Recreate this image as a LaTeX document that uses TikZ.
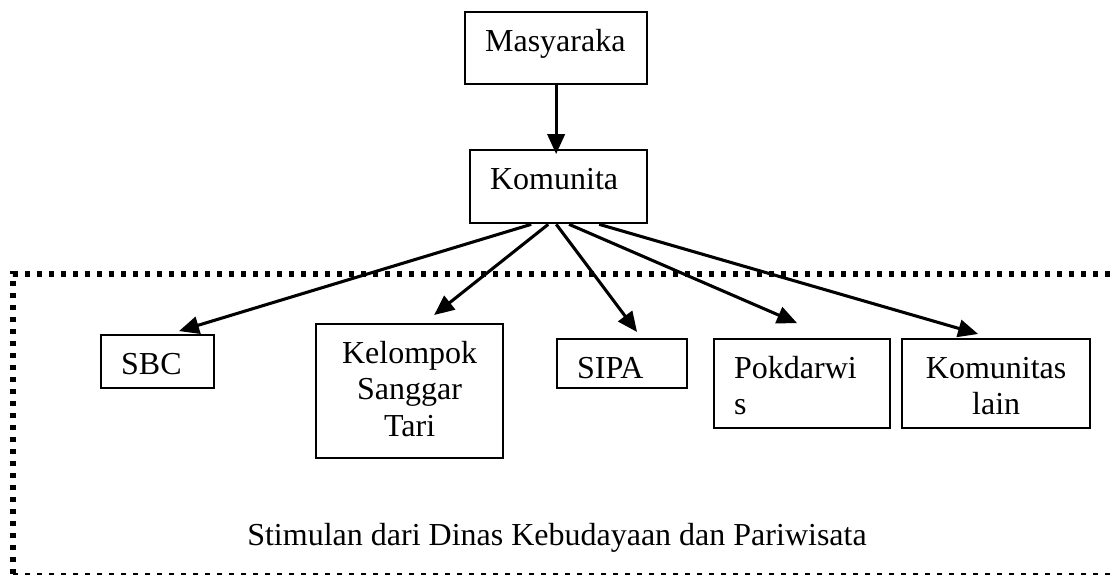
\documentclass[tikz,border=0pt]{standalone}
\usepackage{fontspec}
\setmainfont{Liberation Serif}
\usetikzlibrary{arrows.meta}
\tikzset{
  kotakbox/.style={draw, line width=0.85pt, anchor=north west,
    inner xsep=7.5pt, inner ysep=0pt, text height=14.6pt,
    font=\fontsize{12pt}{13.8pt}\selectfont},
  panah/.style={-{Triangle[length=7.5pt,width=6.5pt]}, line width=1.15pt},
  bingkaitebal/.style={line width=1.9pt, dash pattern=on 1.9pt off 2.6pt},
  bingkaitipis/.style={line width=0.45pt, dash pattern=on 1.9pt off 2.6pt}
}
\newcommand{\kotak}[7]{
  \node[kotakbox, text width=#4pt, text depth=#5pt, align=#6] (#1) at (#2,#3) {#7};
}
\newcommand{\panahke}[5]{
  \draw[panah] ([xshift=#2pt]kom.south) -- ([xshift=#4pt,yshift=#5pt]#3.north);
}

\begin{document}
\begin{tikzpicture}[x=0.375pt, y=-0.375pt]
  \useasboundingbox (0,0) rectangle (1111,575);

  % BINGKAI STIMULAN
  % ================

  \draw[bingkaitebal] (13,574) -- (13,274) -- (1111,274);
  \draw[bingkaitipis] (13,574) -- (1111,574);
  \node[anchor=base, font=\fontsize{12pt}{13.8pt}\selectfont] (stimulan) at (557,545)
    {Stimulan dari Dinas Kebudayaan dan Pariwisata};

  % MASYARAKAT -> KOMUNITAS
  % =======================

  \kotak{masy}{464}{11}{53.25}{12.4}{left}{Masyaraka};
  \kotak{kom}{469}{149}{51.4}{12.8}{left}{Komunita};
  \draw[panah, shorten >=-1.9pt] (masy.south) -- (masy.south |- kom.north);

  % Komunitas-komunitas
  % -------------------

  \kotak{sbc}{100}{334}{27.4}{5.3}{left}{SBC};
  \kotak{sanggar}{315}{323}{55.1}{35.65}{center}{Kelompok\\Sanggar\\Tari};
  \kotak{sipa}{556}{338}{33.75}{3.8}{left}{SIPA};
  \kotak{pokdarwis}{713}{338}{51}{18.8}{left}{Pokdarwi\\s};
  \kotak{lain}{901}{338}{55.5}{18.8}{center}{Komunitas\\lain};

  \panahke{1}{-10.3}{sbc}{8}{1.1}
  \panahke{2}{-3.9}{sanggar}{9.2}{3}
  \panahke{3}{-0.9}{sipa}{5.6}{2.25}
  \panahke{4}{3.9}{pokdarwis}{-1.9}{5.6}
  \panahke{5}{15.2}{lain}{-6.75}{1.5}

\end{tikzpicture}
\end{document}
